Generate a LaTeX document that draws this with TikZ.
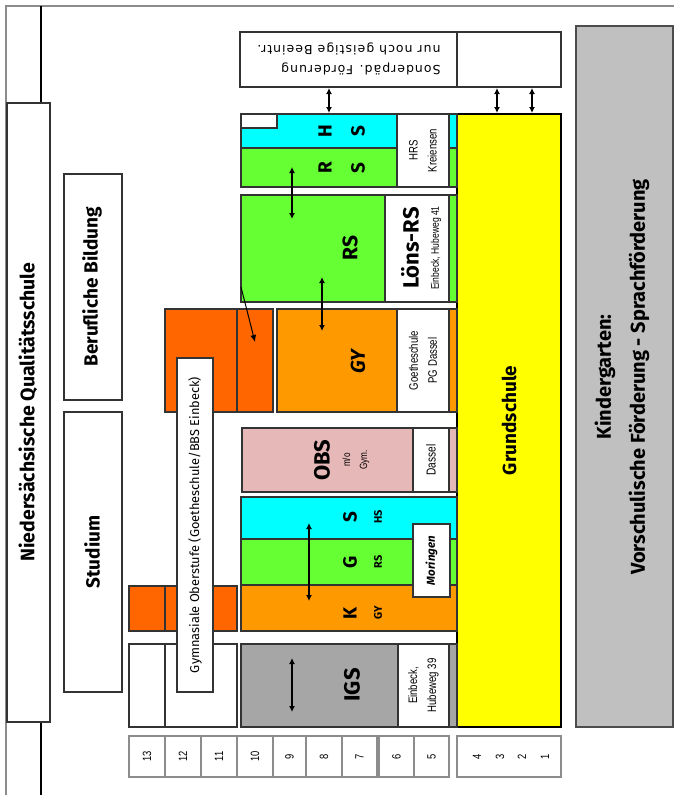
\documentclass[tikz,border=0pt]{standalone}
\usepackage{fontspec}
\setmainfont{Fira Sans}
\newfontfamily\narrowfont[FakeStretch=0.78]{Liberation Sans}
\newfontfamily\sonderfont[LetterSpace=8]{DejaVu Sans}
\usetikzlibrary{fit,arrows.meta}
\definecolor{cyanb}{HTML}{00FFFF}
\definecolor{greenb}{HTML}{66FF33}
\definecolor{orangeb}{HTML}{FF9900}
\definecolor{dorange}{HTML}{FF6600}
\definecolor{pinkb}{HTML}{E6B8B7}
\definecolor{igsgray}{HTML}{A6A6A6}
\definecolor{kgray}{HTML}{C0C0C0}
\definecolor{yellowb}{HTML}{FFFF00}
\definecolor{framegray}{HTML}{8C8C8C}
\definecolor{bord}{HTML}{333333}
\tikzset{
  rb/.style={draw=bord, line width=1.1pt, inner sep=0pt, outer sep=0pt, fill=white},
  cell/.style={draw=framegray, line width=1.1pt, inner sep=0pt, outer sep=0pt, fill=white},
  big/.style={font=\fontsize{19}{22}\selectfont\bfseries, rotate=90, inner sep=0pt},
  letter/.style={font=\fontsize{19}{21}\selectfont\bfseries, rotate=90, inner sep=0pt},
  small/.style={font=\fontsize{11}{12}\selectfont\bfseries, rotate=90, inner sep=0pt},
  lab/.style={font=\narrowfont\fontsize{12.3}{19}\selectfont, rotate=90, align=center, inner sep=0pt},
  num/.style={font=\narrowfont\fontsize{12}{14}\selectfont, rotate=90, inner sep=0pt},
  dbl/.style={{Latex[length=6pt,width=6pt]}-{Latex[length=6pt,width=6pt]}, line width=1.2pt},
  sgl/.style={-{Latex[length=7pt,width=6pt]}, line width=1pt}
}
\newcommand\rbox[6][]{\node[rb,#1,fit={(#3,#4) (#5,#6)}] (#2) {};}
\begin{document}
\begin{tikzpicture}[x=1pt,y=-1pt]
\useasboundingbox (0,0) rectangle (674,795);
% frame
\draw[framegray, line width=1.5pt] (6,795) -- (6,6) -- (674,6);
\coordinate (vtop) at (41,6);
\coordinate (vbot) at (41,795);
\draw[black, line width=1.2pt] (vtop) -- (vbot);
% left column
\rbox{nieder}{7}{103}{50}{722}
\node[big, font=\fontsize{19.5}{22}\selectfont\bfseries] (tnieder) at (28,412) {Niedersächsische Qualitätsschule};
\rbox{beruf}{64}{174}{122}{400}
\node[big] (tberuf) at (92,287) {Berufliche Bildung};
\rbox{stud}{64}{412}{122}{692}
\node[big] (tstud) at (92,552) {Studium};
% Sonderpaed
\rbox{sonder}{240}{32}{457}{87}
\node[font=\sonderfont\fontsize{12.5}{20}\selectfont, rotate=180, align=left, inner sep=0pt] (tsonder) at (349,59) {Sonderpäd. Förderung\\nur noch geistige Beeintr.};
\rbox{sonderb}{457}{32}{561}{87}
% Kindergarten
\rbox[fill=kgray, draw=black!70]{kiga}{576}{26}{673}{727}
\node[font=\fontsize{20}{34}\selectfont\bfseries, rotate=90, align=center, inner sep=0pt] (tkiga) at (622,377) {Kindergarten:\\Vorschulische Förderung - Sprachförderung};
% Grundschule
\rbox[fill=yellowb, draw=black]{grund}{457}{114}{561}{727}
\node[big] (tgrund) at (grund.center) {Grundschule};
% HRS
\rbox[fill=cyanb]{hrsh}{241}{114}{457}{148}
\rbox[fill=greenb]{hrsr}{241}{148}{457}{187}
\rbox{hrsw}{241}{114}{277}{128}
\rbox{hrsl}{397}{114}{449}{187}
\node[letter] (th) at (325,131) {H};
\node[letter] (ths) at (358,131) {S};
\node[letter] (tr) at (325,168) {R};
\node[letter] (trs) at (358,168) {S};
\node[lab] (thrsl) at (hrsl.center) {HRS\\Kreiensen};
% RS
\rbox[fill=greenb]{rs}{241}{195}{457}{302}
\rbox{rsl}{385}{195}{449}{302}
\node[font=\fontsize{21}{23}\selectfont\bfseries, rotate=90, inner sep=0pt] (trs2) at (350,248) {RS};
\node[font=\fontsize{22}{24}\selectfont\bfseries, rotate=90, inner sep=0pt] (tlons) at (410,248) {Löns-RS};
\node[lab, font=\narrowfont\fontsize{11}{12}\selectfont] (tlonsa) at (436,248) {Einbeck, Hubeweg 41};
% upper orange (Oberstufe Goetheschule)
\rbox[fill=dorange]{uo1}{165}{309}{237}{412}
\rbox[fill=dorange]{uo2}{237}{309}{273}{412}
% GY
\rbox[fill=orangeb]{gy}{277}{309}{457}{412}
\rbox{gyl}{397}{309}{449}{412}
\node[font=\fontsize{20}{22}\selectfont\bfseries\itshape, rotate=90, inner sep=0pt] (tgy) at (358,362) {GY};
\node[lab] (tgyl) at (gyl.center) {Goetheschule\\PG Dassel};
% OBS
\rbox[fill=pinkb]{obs}{242}{428}{457}{492}
\rbox{obsl}{413}{428}{449}{492}
\node[font=\fontsize{22}{24}\selectfont\bfseries, rotate=90, inner sep=0pt] (tobs) at (322,460) {OBS};
\node[font=\narrowfont\fontsize{10.5}{17}\selectfont, rotate=90, align=center, inner sep=0pt] (tobs2) at (356,460) {m/o\\Gym.};
\node[lab, font=\narrowfont\fontsize{13}{14}\selectfont] (tobsl) at (obsl.center) {Dassel};
% KGS
\rbox[fill=cyanb]{kgss}{241}{497}{457}{539}
\rbox[fill=greenb]{kgsg}{241}{539}{457}{585}
\rbox[fill=orangeb]{kgsk}{241}{585}{457}{631}
\rbox{mor}{413}{524}{450}{597}
\node[letter] (tk) at (350,613) {K};
\node[small] (tkgy) at (378,613) {GY};
\node[letter] (tg) at (350,562) {G};
\node[small] (tgrs) at (378,562) {RS};
\node[letter] (ts) at (350,517) {S};
\node[small] (tshs) at (378,517) {HS};
\node[lab, font=\fontsize{11.5}{13}\selectfont\bfseries\itshape] (tmor) at (mor.center) {Moringen};
% lower orange and white
\rbox[fill=dorange]{lo1}{129}{586}{165}{631}
\rbox[fill=dorange]{lo2}{165}{586}{237}{631}
\rbox{lw1}{129}{644}{165}{727}
\rbox{lw2}{165}{644}{237}{727}
% IGS
\rbox[fill=igsgray]{igs}{241}{644}{457}{727}
\rbox{igsl}{398}{644}{449}{727}
\node[font=\fontsize{22}{24}\selectfont\bfseries, rotate=90, inner sep=0pt] (tigs) at (352,685) {IGS};
\node[lab] (tigsl) at (igsl.center) {Einbeck,\\Hubeweg 39};
% Gymnasiale Oberstufe label
\rbox{gymo}{177}{358}{213}{692}
\node[lab, font=\fontsize{12.8}{14}\selectfont] (tgymo) at (gymo.center) {Gymnasiale Oberstufe (Goetheschule/BBS Einbeck)};
% year cells
\foreach \n/\a/\b in {13/129/165, 12/165/201, 11/201/237, 10/237/273, 9/273/306, 8/306/342, 7/342/377, 6/379/414, 5/414/449}{
  \node[cell, fit={(\a,736) (\b,777)}] (c\n) {};
  \node[num] (tc\n) at (c\n.center) {\n};
}
\node[cell, fit={(457,736) (561,777)}] (cgs) {};
\node[num] (t4) at (477,757) {4};
\node[num] (t3) at (500,757) {3};
\node[num] (t2) at (522,757) {2};
\node[num] (t1) at (545,757) {1};
% arrows
\coordinate (a1s) at (329,88); \coordinate (a1e) at (329,113);
\coordinate (a2s) at (497,88); \coordinate (a2e) at (497,113);
\coordinate (a3s) at (532,88); \coordinate (a3e) at (532,113);
\draw[dbl] (a1s) -- (a1e);
\draw[dbl] (a2s) -- (a2e);
\draw[dbl] (a3s) -- (a3e);
\coordinate (hrsa) at (292,167); \coordinate (hrsb) at (292,219);
\draw[dbl] (hrsa) -- (hrsb);
\coordinate (rsa) at (322,277); \coordinate (rsb) at (322,331);
\draw[dbl] (rsa) -- (rsb);
\coordinate (dga) at (241,287); \coordinate (dgb) at (255,342);
\draw[sgl] (dga) -- (dgb);
\coordinate (kga) at (309,523); \coordinate (kgb) at (309,601);
\draw[dbl] (kga) -- (kgb);
\coordinate (iga) at (292,658); \coordinate (igb) at (292,712);
\draw[dbl] (iga) -- (igb);
\end{tikzpicture}
\end{document}
